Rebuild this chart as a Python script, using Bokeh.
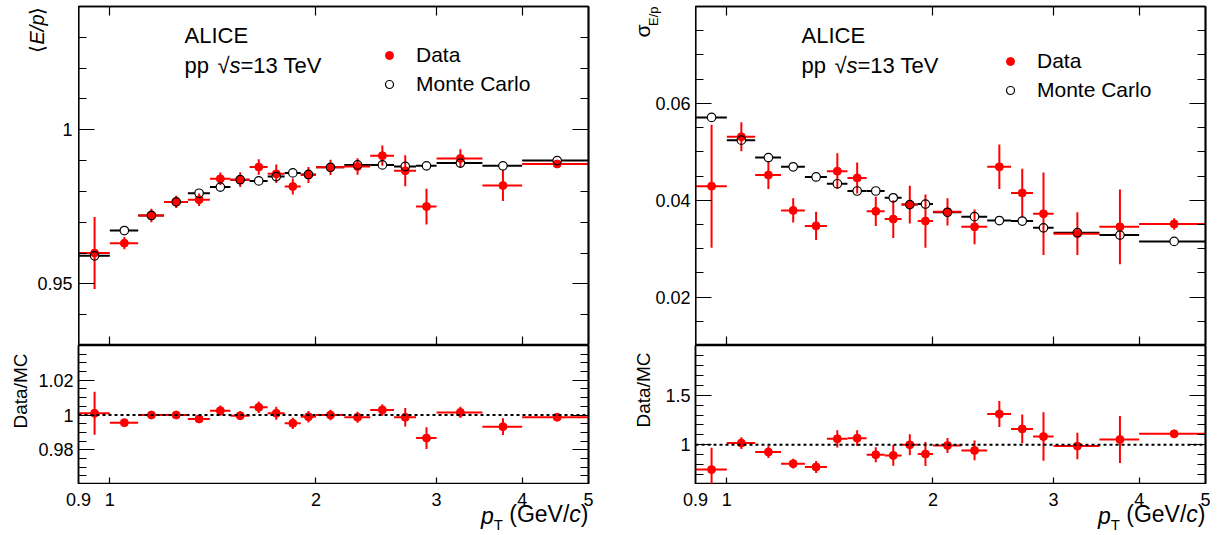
import math
from bokeh.plotting import figure
from bokeh.models import (LogAxis, LinearAxis, FixedTicker, CustomJSTickFormatter, Range1d,
                          Label, Legend, LegendItem, Span)
from bokeh.core.properties import value
from bokeh.layouts import column, row
from bokeh.embed import file_html
from bokeh.resources import INLINE

FONT = "Liberation Sans"
RED = "#ff0000"

# ---------------- data ----------------
pt_lo = [0.9, 1.0, 1.1, 1.2, 1.3, 1.4, 1.5, 1.6, 1.7, 1.8, 1.9, 2.0, 2.2, 2.4, 2.6, 2.8, 3.0, 3.5, 4.0]
pt_hi = [1.0, 1.1, 1.2, 1.3, 1.4, 1.5, 1.6, 1.7, 1.8, 1.9, 2.0, 2.2, 2.4, 2.6, 2.8, 3.0, 3.5, 4.0, 5.0]
pt_center = [0.95, 1.05, 1.15, 1.25, 1.35, 1.45, 1.55, 1.65, 1.75, 1.85, 1.95,
             2.1, 2.3, 2.5, 2.7, 2.9, 3.25, 3.75, 4.5]

ep_data = [0.9600, 0.9632, 0.9722, 0.9766, 0.9773, 0.9841, 0.9838, 0.9879, 0.9857, 0.9816,
           0.9853, 0.9878, 0.9881, 0.9916, 0.9867, 0.9751, 0.9907, 0.9819, 0.9889]
ep_data_err = [0.0117, 0.0020, 0.0022, 0.0020, 0.0020, 0.0020, 0.0024, 0.0025, 0.0030, 0.0026,
               0.0026, 0.0025, 0.0027, 0.0033, 0.0050, 0.0058, 0.0030, 0.0050, 0.0005]
ep_mc = [0.9591, 0.9673, 0.9722, 0.9766, 0.9794, 0.9814, 0.9838, 0.9834, 0.9848, 0.9860,
         0.9855, 0.9878, 0.9886, 0.9886, 0.9881, 0.9883, 0.9892, 0.9883, 0.9900]

ep_ratio = [1.0010, 0.9956, 1.0000, 1.0000, 0.9977, 1.0025, 0.9996, 1.0044, 1.0010, 0.9952,
            0.9990, 1.0000, 0.9987, 1.0029, 0.9987, 0.9867, 1.0015, 0.9933, 0.9987]
ep_ratio_err = [0.0124, 0.0015, 0.0015, 0.0015, 0.0020, 0.0030, 0.0025, 0.0033, 0.0037, 0.0032,
                0.0033, 0.0030, 0.0032, 0.0033, 0.0053, 0.0063, 0.0032, 0.0048, 0.0005]

sig_data = [0.0429, 0.0531, 0.0452, 0.0379, 0.0347, 0.0460, 0.0446, 0.0377, 0.0361, 0.0391,
            0.0357, 0.0376, 0.0345, 0.0469, 0.0415, 0.0372, 0.0331, 0.0345, 0.0351]
sig_data_err = [0.0127, 0.0030, 0.0029, 0.0025, 0.0029, 0.0037, 0.0032, 0.0030, 0.0039, 0.0039,
                0.0055, 0.0028, 0.0036, 0.0046, 0.0050, 0.0085, 0.0044, 0.0077, 0.0012]
sig_mc = [0.0571, 0.0524, 0.0488, 0.0469, 0.0448, 0.0434, 0.0419, 0.0419, 0.0405, 0.0391,
          0.0392, 0.0375, 0.0366, 0.0358, 0.0357, 0.0343, 0.0333, 0.0328, 0.0315]

sig_ratio = [0.750, 1.017, 0.927, 0.810, 0.777, 1.060, 1.067, 0.900, 0.893, 1.000,
             0.907, 0.993, 0.943, 1.310, 1.160, 1.083, 0.987, 1.053, 1.110]
sig_ratio_err = [0.220, 0.060, 0.060, 0.050, 0.060, 0.087, 0.080, 0.075, 0.105, 0.105,
                 0.120, 0.075, 0.100, 0.130, 0.145, 0.245, 0.133, 0.237, 0.020]

x_tick_values = [0.9, 1, 2, 3, 4, 5]
x_mirror_ticks = [1, 2, 3, 4]

tl_major = [0.95, 1.0]
tl_minor = [round(0.93 + 0.01 * i, 3) for i in range(12)]
tr_major = [0.02, 0.04, 0.06]
tr_minor = [round(0.01 + 0.005 * i, 4) for i in range(15)]
bl_major = [0.98, 1.0, 1.02]
bl_minor = [round(0.96 + 0.005 * i, 4) for i in range(17)]
br_major = [1.0, 1.5]
br_minor = [round(0.6 + 0.1 * i, 2) for i in range(15)]

FMT = "return String(Math.round(tick*10000)/10000);"
FRAME_W = 510
DEC_PER_PX = math.log10(5.0 / 0.9) / FRAME_W
LW = 1.5


def line_style(ax):
    ax.axis_line_color = "black"
    ax.axis_line_width = LW
    ax.major_tick_line_color = "black"
    ax.minor_tick_line_color = "black"
    ax.major_tick_line_width = 1.2
    ax.minor_tick_line_width = 1.2
    ax.major_tick_out = 0
    ax.minor_tick_out = 0


def labelled_axis(ax, ticks, minor, major_len, minor_len, standoff):
    ax.ticker = FixedTicker(ticks=ticks, minor_ticks=minor)
    line_style(ax)
    ax.major_tick_in = major_len
    ax.minor_tick_in = minor_len
    ax.major_label_text_font = FONT
    ax.major_label_text_font_size = "18px"
    ax.major_label_text_color = "black"
    ax.major_label_standoff = standoff
    ax.formatter = CustomJSTickFormatter(code=FMT)


def tick_only(ax, positions, length):
    # tick marks given as minor ticks -> the axis carries no labels at all
    ax.ticker = FixedTicker(ticks=[], minor_ticks=positions)
    line_style(ax)
    ax.major_tick_in = 0
    ax.minor_tick_in = length
    ax.major_label_standoff = 0
    return ax


def make_fig(yr, frame_h, bl, br, bt, ymaj, ymin, is_ratio):
    p = figure(title=None, x_axis_type="log", x_range=Range1d(0.9, 5.0), y_range=Range1d(*yr),
               frame_width=FRAME_W, frame_height=frame_h,
               min_border_left=bl, min_border_right=br, min_border_top=bt, min_border_bottom=0,
               toolbar_location=None, output_backend="svg",
               background_fill_color="white", border_fill_color="white",
               outline_line_color="black", outline_line_width=LW)
    p.xgrid.visible = False
    p.ygrid.visible = False
    if is_ratio:
        tick_only(p.xaxis[0], x_mirror_ticks, 7)
        labelled_axis(p.yaxis[0], ymaj, ymin, 16, 8, 5)
    else:
        tick_only(p.xaxis[0], x_mirror_ticks, 9)
        p.add_layout(tick_only(LogAxis(), x_mirror_ticks, 9), "above")
        tick_only(p.yaxis[0], ymaj, 16)
        p.add_layout(tick_only(LinearAxis(), ymin, 8), "left")
    p.add_layout(tick_only(LinearAxis(), ymaj, 16), "right")
    p.add_layout(tick_only(LinearAxis(), ymin, 8), "right")
    return p


def blank(width, height, top, y_range=None):
    if y_range is None:
        y_range = Range1d(0, height)
    return figure(title=None, x_axis_type=None, y_axis_type=None,
                  x_range=Range1d(0, width), y_range=y_range,
                  frame_width=width, frame_height=height,
                  min_border_left=0, min_border_right=0, min_border_top=top, min_border_bottom=0,
                  toolbar_location=None, output_backend="svg", outline_line_color=None,
                  background_fill_color="white", border_fill_color="white")


def strip(width, left_off, right_off, height):
    # log x scale aligned with the panel frames above it
    lo = 0.9 / 10 ** (left_off * DEC_PER_PX)
    hi = 5.0 * 10 ** (right_off * DEC_PER_PX)
    s = figure(title=None, x_axis_type="log", y_axis_type=None,
               x_range=Range1d(lo, hi), y_range=Range1d(0, height),
               frame_width=width, frame_height=height,
               min_border_left=0, min_border_right=0, min_border_top=0, min_border_bottom=0,
               toolbar_location=None, output_backend="svg", outline_line_color=None,
               background_fill_color="white", border_fill_color="white")
    s.xaxis.visible = False
    s.xgrid.visible = False
    s.text(x=x_tick_values, y=[36.5] * len(x_tick_values), text=[f"{t:g}" for t in x_tick_values],
           text_font=value(FONT), text_font_size=value("18px"), text_color="black",
           text_align=value("center"), text_baseline=value("middle"))
    return s


def lab(p, text, x, y, size, style="normal", align="left", angle=0.0):
    p.add_layout(Label(x=x, y=y, x_units="screen", y_units="screen", text=text,
                       text_font=FONT, text_font_size=f"{size}px", text_font_style=style,
                       text_align=align, text_baseline="middle", angle=angle,
                       text_color="black"))


def tick_labels(g, xpos, ticks):
    g.text(x=[xpos] * len(ticks), y=ticks, text=[f"{t:g}" for t in ticks],
           text_font=value(FONT), text_font_size=value("18px"), text_color="black",
           text_align=value("right"), text_baseline=value("middle"))


def draw_top(p, data, derr, mc, legend_loc):
    lo_err = [d - e for d, e in zip(data, derr)]
    hi_err = [d + e for d, e in zip(data, derr)]
    p.segment(x0=pt_lo, x1=pt_hi, y0=mc, y1=mc, line_color="black", line_width=2)
    p.scatter(x=pt_center, y=mc, size=8.5, marker="circle", fill_color="white", line_alpha=0)
    p.segment(x0=pt_lo, x1=pt_hi, y0=data, y1=data, line_color=RED, line_width=2)
    p.segment(x0=pt_center, x1=pt_center, y0=lo_err, y1=hi_err, line_color=RED, line_width=2)
    r_data = p.scatter(x=pt_center, y=data, size=8, marker="circle", fill_color=RED, line_color=RED)
    r_mc = p.scatter(x=pt_center, y=mc, size=8.5, marker="circle", fill_alpha=0,
                     line_color="black", line_width=1.2)
    leg = Legend(items=[LegendItem(label="Data", renderers=[r_data]),
                        LegendItem(label="Monte Carlo", renderers=[r_mc])],
                 location=legend_loc, orientation="vertical", padding=0, margin=0, spacing=3,
                 glyph_width=20, glyph_height=26, label_height=26, label_standoff=17,
                 label_text_font=FONT, label_text_font_size="21px", label_text_color="black",
                 border_line_alpha=0, background_fill_alpha=0)
    p.add_layout(leg)
    lab(p, "ALICE", 106, 310, 22)
    lab(p, "pp", 106, 280, 22)
    lab(p, "\u221a", 139, 280, 22)
    lab(p, "s", 151, 280, 22, style="italic")
    lab(p, "=13 TeV", 162, 280, 22)


def draw_ratio(p, ratio, rerr):
    lo_err = [d - e for d, e in zip(ratio, rerr)]
    hi_err = [d + e for d, e in zip(ratio, rerr)]
    p.add_layout(Span(location=1.0, dimension="width", line_color="black",
                      line_width=2, line_dash="3 3"))
    p.segment(x0=pt_lo, x1=pt_hi, y0=ratio, y1=ratio, line_color=RED, line_width=2)
    p.segment(x0=pt_center, x1=pt_center, y0=lo_err, y1=hi_err, line_color=RED, line_width=2)
    p.scatter(x=pt_center, y=ratio, size=8, marker="circle", fill_color=RED, line_color=RED)


def x_title(s, right):
    # p_T (GeV/c), right aligned at the panel frame edge
    F = 23
    FS = 15
    yc = 22
    xr = right
    lab(s, ")", xr, yc, F, align="right")
    xr -= 0.333 * F
    lab(s, "c", xr, yc, F, style="italic", align="right")
    xr -= 0.5 * F
    lab(s, "(GeV/", xr, yc, F, align="right")
    xr -= (2.612 + 0.278) * F
    lab(s, "T", xr, 11, FS, align="right")
    xr -= 0.611 * FS
    lab(s, "p", xr, yc - 2, F, style="italic", align="right")


# ---------------- figures ----------------
p_tl = make_fig((0.93, 1.04), 339, 0, 17, 6, tl_major, tl_minor, False)
p_tr = make_fig((0.01, 0.08), 339, 0, 15, 6, tr_major, tr_minor, False)
p_bl = make_fig((0.96, 1.04), 139, 44, 17, 0, bl_major, bl_minor, True)
p_br = make_fig((0.6, 2.0), 139, 40, 15, 0, br_major, br_minor, True)

draw_top(p_tl, ep_data, ep_data_err, ep_mc, (301, 248))
draw_top(p_tr, sig_data, sig_data_err, sig_mc, (305, 242))
draw_ratio(p_bl, ep_ratio, ep_ratio_err)
draw_ratio(p_br, sig_ratio, sig_ratio_err)

half = math.pi / 2

# left gutters: y titles and upper-panel tick labels
g_tl = blank(78, 339, 6, p_tl.y_range)
tick_labels(g_tl, 72, tl_major)
lab(g_tl, "\u27e9", 36, 339, 20, align="right", angle=half)
lab(g_tl, "E/p", 36, 331, 20, style="italic", align="right", angle=half)
lab(g_tl, "\u27e8", 36, 301, 20, align="right", angle=half)

g_tr = blank(90, 339, 6, p_tr.y_range)
tick_labels(g_tr, 85, tr_major)
lab(g_tr, "E/p", 48, 339, 13, align="right", angle=half)
lab(g_tr, "\u03c3", 37, 321, 21, align="right", angle=half)

g_bl = blank(34, 139, 0)
lab(g_bl, "Data/MC", 20, 131, 19, align="right", angle=half)
g_br = blank(50, 139, 0)
lab(g_br, "Data/MC", 38, 132, 19, align="right", angle=half)

# bottom strips: x tick labels and x titles
s_l = strip(605, 78, 17, 51)
x_title(s_l, 588)
s_r = strip(615, 90, 15, 51)
x_title(s_r, 600)

layout = column(row(g_tl, p_tl, g_tr, p_tr),
                row(g_bl, p_bl, g_br, p_br),
                row(s_l, s_r))

open("out.html", "w").write(file_html(layout, INLINE))
